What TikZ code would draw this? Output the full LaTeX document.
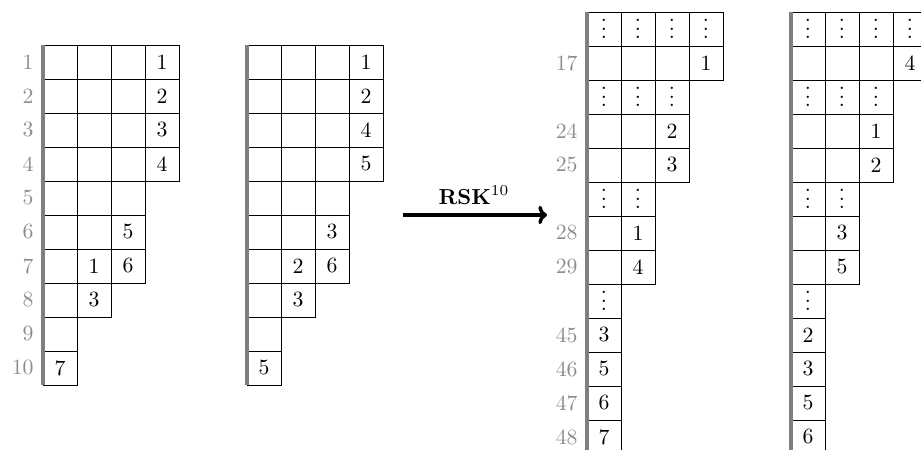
\documentclass[tikz,border=0pt]{standalone}
\usetikzlibrary{arrows.meta}
\newcommand\cellvdots{\smash{\raisebox{-4.5pt}{$\vdots$}}}
\begin{document}
\begin{tikzpicture}[x=0.016176cm,y=-0.016176cm,
  cellbox/.style={draw=black,line width=0.4pt},
  ent/.style={inner sep=0pt},
  rowlab/.style={anchor=east,inner sep=0pt,text=black!45},
  leftbar/.style={draw=black!50,line width=1.5pt},
  dotsnode/.style={inner sep=0pt},
  bigarrow/.style={line width=1.6pt,-{To[length=4pt,width=8.5pt]}}]
\useasboundingbox (0,0) rectangle (921,450);
\clip (0,0) rectangle (921,450);
% ---------- tableau 1 ----------
\foreach \r/\n in {1/4,2/4,3/4,4/4,5/3,6/3,7/3,8/2,9/1,10/1}
  \foreach \c in {1,...,\n}
    \draw[cellbox] ({9+34*\c},{11+34*\r}) rectangle ++(34,34);
\draw[leftbar] (43,45) -- (43,385);
\foreach \r in {1,...,10}
  \node[rowlab] (la\r) at (34,{28+34*\r}) {\r};
\foreach \r/\c/\v in {1/4/1,2/4/2,3/4/3,4/4/4,6/3/5,7/2/1,7/3/6,8/2/3,10/1/7}
  \node[ent] (a\r-\c) at ({26+34*\c},{28+34*\r}) {\v};
% ---------- tableau 2 ----------
\foreach \r/\n in {1/4,2/4,3/4,4/4,5/3,6/3,7/3,8/2,9/1,10/1}
  \foreach \c in {1,...,\n}
    \draw[cellbox] ({213+34*\c},{11+34*\r}) rectangle ++(34,34);
\draw[leftbar] (247,45) -- (247,385);
\foreach \r/\c/\v in {1/4/1,2/4/2,3/4/4,4/4/5,6/3/3,7/2/2,7/3/6,8/2/3,10/1/5}
  \node[ent] (b\r-\c) at ({230+34*\c},{28+34*\r}) {\v};
% ---------- arrow ----------
\coordinate (arrL) at (403,215);
\coordinate (arrR) at (547,215);
\draw[bigarrow] (arrL) -- (arrR);
\node[anchor=base,inner sep=0pt] (rsk) at (474,205) {$\mathbf{RSK}^{10}$};
% ---------- tableau 3 ----------
\foreach \r/\n in {0/4,1/4,2/3,3/3,4/3,5/2,6/2,7/2,8/1,9/1,10/1,11/1,12/1}
  \foreach \c in {1,...,\n}
    \draw[cellbox] ({553+34*\c},{12+34*\r}) rectangle ++(34,34);
\draw[leftbar] (587,12) -- (587,454);
\foreach \r/\n in {0/4,2/3,5/2,8/1}
  \foreach \c in {1,...,\n}
    \node[dotsnode] (cd\r-\c) at ({570+34*\c},{29+34*\r}) {\cellvdots};
\foreach \r/\t in {1/17,3/24,4/25,6/28,7/29,9/45,10/46,11/47,12/48}
  \node[rowlab] (lc\r) at (578,{29+34*\r}) {\t};
\foreach \r/\c/\v in {1/4/1,3/3/2,4/3/3,6/2/1,7/2/4,9/1/3,10/1/5,11/1/6,12/1/7}
  \node[ent] (c\r-\c) at ({570+34*\c},{29+34*\r}) {\v};
% ---------- tableau 4 ----------
\foreach \r/\n in {0/4,1/4,2/3,3/3,4/3,5/2,6/2,7/2,8/1,9/1,10/1,11/1,12/1}
  \foreach \c in {1,...,\n}
    \draw[cellbox] ({757+34*\c},{12+34*\r}) rectangle ++(34,34);
\draw[leftbar] (791,12) -- (791,454);
\foreach \r/\n in {0/4,2/3,5/2,8/1}
  \foreach \c in {1,...,\n}
    \node[dotsnode] (dd\r-\c) at ({774+34*\c},{29+34*\r}) {\cellvdots};
\foreach \r/\c/\v in {1/4/4,3/3/1,4/3/2,6/2/3,7/2/5,9/1/2,10/1/3,11/1/5,12/1/6}
  \node[ent] (d\r-\c) at ({774+34*\c},{29+34*\r}) {\v};
\end{tikzpicture}
\end{document}
